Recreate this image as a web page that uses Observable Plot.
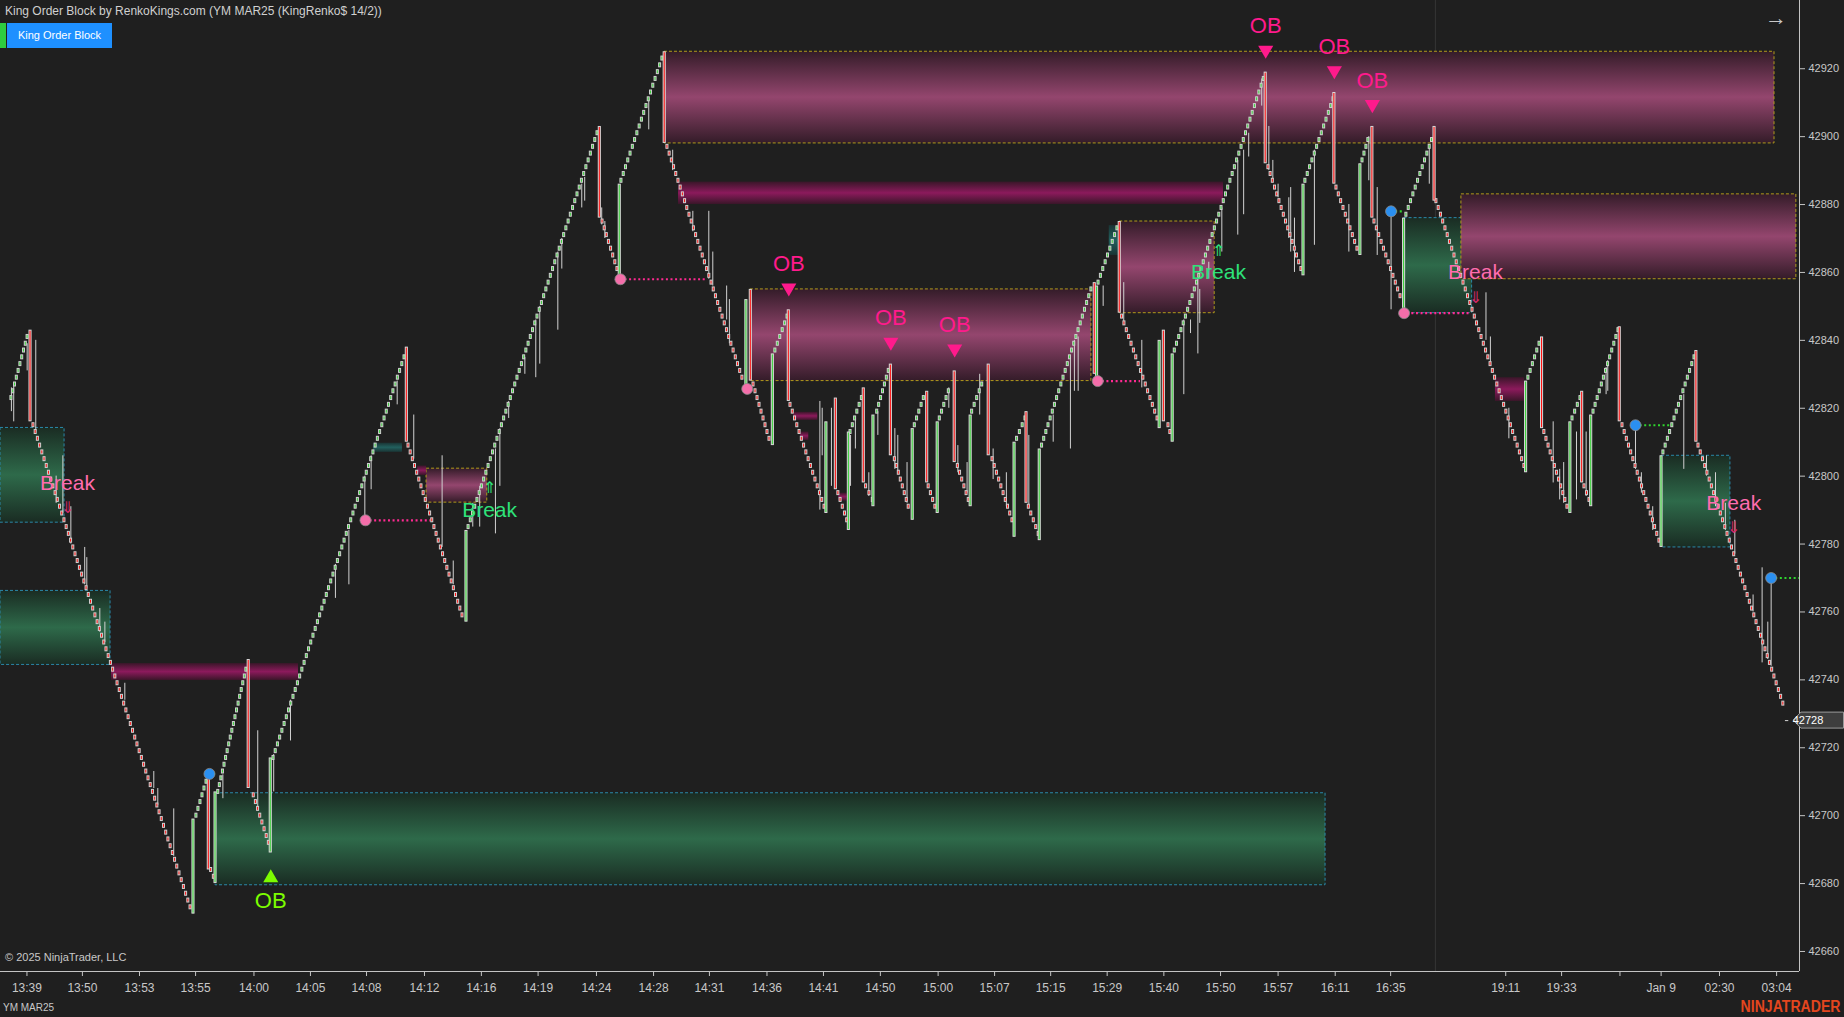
<!DOCTYPE html>
<html><head><meta charset="utf-8">
<script src="https://cdn.jsdelivr.net/npm/d3@7"></script>
<script src="https://cdn.jsdelivr.net/npm/@observablehq/plot@0.6"></script>
<style>
html,body{margin:0;padding:0;background:#1f1f1f;overflow:hidden}
#wrap{position:relative;width:1844px;height:1017px}
.ov{position:absolute;font-family:"Liberation Sans",Arial,sans-serif;color:#d0d0d0;white-space:nowrap}
</style></head>
<body><div id="wrap"></div>
<script>
// ---------- DATA (bar index, price) ----------
const BRICK = 2;
const tickBars = [12.6,39,66.2,92.9,120.7,147.6,174.3,201.9,229,256,283.8,311,337.6,365,391.9,419,446.5,473.4,500.1,527,554,581,608.4,635.6,662,716.8,743.4,771.2,790.8,818.6,845.8];
const tickLabels = ["13:39","13:50","13:53","13:55","14:00","14:05","14:08","14:12","14:16","14:19","14:24","14:28","14:31","14:36","14:41","14:50","15:00","15:07","15:15","15:29","15:40","15:50","15:57","16:11","16:35","19:11","19:33","","Jan 9","02:30","03:04"];
const yTicks = [42660,42680,42700,42720,42740,42760,42780,42800,42820,42840,42860,42880,42900,42920];
const xDomain = [0, 856.7];
const yDomain = [42654.1, 42940.1];
const sessionBreak = 683.3;
const lastPrice = 42728;
const lastBar = 850.8;

// renko legs of 2-point bricks: [startBar, firstClose, endBar, lastClose]
const legs = [
 [5.2,42824,12.9,42842],[15.7,42814,90.5,42672],[93.3,42701,98.1,42711],[100.3,42683,101.6,42681],
 [103.7,42708,117.1,42744],[120.6,42705,127.8,42691],[130.0,42718,192.4,42836],[194.3,42808,220.0,42758],
 [222.9,42786,284.3,42902],[286.7,42874,293.8,42860],[295.7,42888,315.2,42924],[317.6,42896,353.3,42828],
 [358.6,42826,366.2,42810],[369.0,42838,374.8,42848],[376.2,42820,392.4,42790],[399.0,42794,403.2,42786],
 [404.8,42814,410.2,42824],[412.2,42796,415.4,42792],[417.5,42820,423.0,42832],[425.9,42804,432.5,42790],
 [435.4,42816,439.7,42824],[442.0,42796,445.2,42790],[447.3,42818,451.6,42826],[455.9,42802,461.1,42792],
 [462.7,42820,467.5,42828],[472.4,42804,481.9,42786],[484.1,42812,488.1,42818],[489.7,42790,494.4,42782],
 [496.0,42810,519.5,42856],[522.9,42858,531.9,42874],[534.1,42846,551.0,42816],[556.2,42814,557.1,42812],
 [559.2,42838,601.6,42918],[603.8,42890,619.5,42860],[621.4,42888,634.8,42912],[636.2,42884,646.2,42866],
 [648.6,42894,651.4,42900],[654.3,42874,666.7,42852],[669.5,42878,681.7,42900],[683.8,42880,725.7,42802],
 [727.6,42830,732.9,42840],[735.2,42812,746.2,42790],[748.6,42818,752.4,42824],[754.3,42796,756.7,42792],
 [758.6,42820,770.5,42844],[772.4,42814,790.0,42780],[791.9,42808,806.7,42836],[808.6,42808,849.0,42732]
];
// reversal bars: [bar, open, close]
const reversals = [
 [14.3,42843,42816],[91.9,42671,42699],[99.2,42712,42684],[102.4,42680,42707],[118.2,42746,42708],
 [128.7,42689,42717],[193.5,42838,42810],[221.9,42757,42784],[285.4,42903,42876],[294.9,42858,42886],
 [316.3,42925,42898],[355.2,42826,42852],[357.3,42855,42828],[367.8,42809,42836],[375.4,42849,42822],
 [393.3,42789,42816],[397.8,42823,42796],[404.0,42784,42813],[411.1,42826,42798],[415.7,42791,42818],
 [424.0,42833,42806],[434.4,42787,42814],[441.3,42825,42798],[446.3,42789,42816],[454.4,42831,42804],
 [462.0,42791,42818],[470.6,42833,42806],[482.9,42782,42810],[488.6,42819,42792],[494.9,42781,42808],
 [521.1,42857,42830],[522.2,42828,42856],[533.0,42875,42848],[552.0,42814,42840],[554.0,42843,42816],
 [558.2,42810,42836],[602.5,42919,42892],[620.5,42859,42886],[635.2,42913,42886],[647.6,42865,42892],
 [653.3,42903,42876],[668.4,42848,42876],[682.9,42903,42881],[726.5,42801,42828],[734.1,42841,42814],
 [747.6,42789,42816],[753.2,42825,42798],[757.5,42791,42818],[771.1,42844,42816],[791.0,42779,42806],
 [807.6,42837,42810]
];
// wicks: [bar, low, high]
const wicks = [
 [5.2,42819,42826],[6.3,42816,42827],[12.7,42831,42839],[16.8,42813,42840],[26.5,42792,42800],[29.7,42789,42806],
 [33.5,42780,42791],[40.1,42768,42779],[41.1,42767,42776],[47.3,42754,42761],[49.7,42751,42757],[59.2,42734,42739],
 [73.0,42708,42713],[74.9,42703,42708],[82.5,42688,42702],[105.9,42705,42712],[122.5,42702,42725],[130.1,42707,42718],
 [138.1,42722,42734],[159.5,42764,42774],[165.9,42768,42784],[173.5,42787,42800],[176.5,42796,42806],[188.9,42821,42828],
 [196.8,42805,42818],[210.3,42779,42806],[215.6,42768,42775],[224.9,42785,42792],[228.2,42785,42797],[235.7,42783,42808],
 [237.8,42797,42814],[242.0,42817,42822],[249.7,42830,42835],[254.9,42829,42846],[256.8,42833,42850],[265.4,42843,42866],
 [267.3,42861,42870],[276.8,42879,42886],[278.2,42881,42888],[286.3,42874,42879],[287.8,42870,42875],[308.7,42902,42911],
 [320.1,42890,42896],[329.7,42872,42878],[337.3,42858,42878],[339.2,42856,42866],[345.8,42846,42856],[347.1,42839,42852],
 [390.2,42790,42822],[391.3,42806,42820],[395.7,42797,42820],[404.8,42797,42812],[407.1,42808,42817],[413.5,42794,42801],
 [417.8,42812,42819],[425.9,42802,42814],[427.3,42801,42812],[431.7,42792,42804],[451.6,42820,42826],[455.9,42801,42809],
 [460.3,42795,42804],[466.3,42818,42830],[472.7,42799,42808],[479.0,42791,42801],[489.7,42791,42812],[501.3,42810,42818],
 [509.5,42808,42835],[511.4,42825,42840],[513.2,42825,42841],[525.1,42850,42856],[534.9,42845,42857],[543.5,42826,42840],
 [563.5,42824,42846],[566.7,42842,42846],[570.2,42836,42858],[571.1,42845,42855],[575.4,42858,42863],[581.6,42866,42879],
 [589.2,42871,42893],[592.0,42877,42896],[594.4,42894,42901],[600.6,42909,42917],[604.0,42890,42903],[605.9,42887,42893],
 [608.4,42882,42886],[613.5,42870,42882],[614.4,42866,42885],[616.2,42860,42876],[625.7,42868,42896],[642.1,42866,42880],
 [651.6,42887,42900],[655.6,42865,42885],[662.2,42849,42878],[680.4,42886,42897],[707.4,42840,42854],[709.5,42833,42841],
 [718.3,42811,42820],[739.4,42798,42816],[742.5,42793,42802],[744.4,42792,42804],[750.5,42793,42813],[755.1,42794,42813],
 [764.6,42824,42832],[765.4,42825,42834],[778.6,42802,42815],[781.4,42795,42801],[786.8,42784,42791],[801.6,42802,42824],
 [812.4,42800,42806],[816.7,42791,42801],[821.4,42784,42792],[825.9,42777,42787],[834.6,42760,42765],[838.9,42745,42773],
 [841.6,42746,42757],[843.2,42744,42770]
];
// zones: [barStart, barEnd, low, high]
const greenZones = [[0,30.5,42786.3,42814.2],[0,52.4,42744.4,42766.2],[102.4,631,42679.5,42706.6],[668.4,700.8,42848,42876],[791,823.8,42779,42806]];
const magZones = [[316.2,844.8,42898,42925],[357.1,519.5,42828,42855],[202.9,231.8,42792.2,42802.2],[533,578.2,42848,42875],[695.7,855.2,42858,42883]];
const magBands = [[322.9,582.4,42880,42886.6],[52.9,141.9,42739.8,42744.8],[711.9,725.7,42822,42829],[377.8,389.2,42816.4,42818.8],[381,384.9,42810.5,42813],[399.2,403.2,42792.6,42795],[198.7,202.9,42800.2,42803]];
const tealBands = [[177.6,191.4,42807,42809.7],[528,532.4,42865,42873.8]];
// swing markers
const pinkLines = [[173.8,204.8,42787],[295.2,336.7,42858],[522.5,542.9,42828],[669.9,700,42848]];
const greenLines = [[99.5,102.4,42712.3],[662.2,668,42878],[778.6,795.2,42815],[843.2,856.7,42770]];
const pinkDots = [[173.8,42787],[295.2,42858],[355.6,42825.7],[522.5,42828],[668.4,42848]];
const blueDots = [[99.5,42712.3],[662.2,42878],[778.6,42815],[843.2,42770]];
const obDown = [[375.4,42849],[424.0,42833],[454.4,42831],[602.5,42919],[635.2,42913],[653.3,42903]];
const obUp = [[128.7,42689]];
const breakBear = [[31.9,42798],[702.4,42860],[825.4,42792]];
const breakBull = [[232.9,42790],[580.0,42860]];

// ---------- BUILD ----------
const bricks = legs.flatMap(([b0,p0,b1,p1]) => {
  const dir = Math.sign(p1 - p0);
  const n = Math.round(Math.abs(p1 - p0) / BRICK) + 1;
  return Array.from({length: n}, (_, k) => ({
    bar: n > 1 ? b0 + (b1 - b0) * k / (n - 1) : b0,
    close: p0 + dir * BRICK * k,
    open: p0 + dir * BRICK * (k - 1),
    up: dir > 0
  }));
});
const revBars = reversals.map(([bar, open, close]) => ({bar, open, close, up: close > open}));
const upBricks = bricks.filter(d => d.up), downBricks = bricks.filter(d => !d.up);
const upRev = revBars.filter(d => d.up), downRev = revBars.filter(d => !d.up);
const labelOf = new Map(tickBars.map((b, i) => [b, tickLabels[i]]));

const zx1 = d => d[0], zx2 = d => d[1], zy1 = d => d[2], zy2 = d => d[3];
const brickOpts = {x1: d => d.bar - 0.48, x2: d => d.bar + 0.48, y1: "open", y2: "close", stroke: "#cfcfcf", strokeWidth: 1, insetTop: 1.4, insetBottom: 1.4};
const revOpts = {x1: d => d.bar - 0.5, x2: d => d.bar + 0.5, y1: "open", y2: "close", stroke: "#d8d8d8", strokeWidth: 1, insetTop: 0.5, insetBottom: 0.5};

const svg = Plot.plot({
  width: 1844, height: 1017,
  marginLeft: 0, marginRight: 45, marginTop: 0, marginBottom: 46,
  x: {type: "linear", domain: xDomain},
  y: {domain: yDomain},
  style: {background: "#1f1f1f", color: "#c8c8c8", fontFamily: "'Liberation Sans', Arial, sans-serif", fontSize: "11px"},
  marks: [
    Plot.ruleX([sessionBreak], {stroke: "#363636", strokeWidth: 1}),
    Plot.rect(greenZones, {x1: zx1, x2: zx2, y1: zy1, y2: zy2, fill: "url(#gGreen)", stroke: "#2a88a8", strokeDasharray: "3,2", strokeWidth: 1}),
    Plot.rect(magZones, {x1: zx1, x2: zx2, y1: zy1, y2: zy2, fill: "url(#gMag)", stroke: "#b09a1c", strokeDasharray: "3,2", strokeWidth: 1}),
    Plot.rect(magBands, {x1: zx1, x2: zx2, y1: zy1, y2: zy2, fill: "url(#gBand)"}),
    Plot.rect(tealBands, {x1: zx1, x2: zx2, y1: zy1, y2: zy2, fill: "url(#gTeal)"}),
    Plot.ruleY(pinkLines, {x1: d => d[0], x2: d => d[1], y: d => d[2], stroke: "#ff2a92", strokeWidth: 2.2, strokeDasharray: "2,2.6"}),
    Plot.ruleY(greenLines, {x1: d => d[0], x2: d => d[1], y: d => d[2], stroke: "#2fd42f", strokeWidth: 2.2, strokeDasharray: "2,2.6"}),
    Plot.ruleX(wicks, {x: d => d[0], y1: d => d[1], y2: d => d[2], stroke: "#d2d2d2", strokeWidth: 1}),
    Plot.rect(upBricks, {...brickOpts, fill: "#3ad23a"}),
    Plot.rect(downBricks, {...brickOpts, fill: "#ff1010"}),
    Plot.rect(upRev, {...revOpts, fill: "#3ad23a"}),
    Plot.rect(downRev, {...revOpts, fill: "#ff1010"}),
    Plot.ruleY([lastPrice], {x1: lastBar - 0.8, x2: lastBar + 0.8, stroke: "#d4d4d4"}),
    Plot.dot(pinkDots, {x: d => d[0], y: d => d[1], r: 5.5, fill: "#f46eaa", stroke: "#8a8a8a", strokeWidth: 0.8}),
    Plot.dot(blueDots, {x: d => d[0], y: d => d[1], r: 5.5, fill: "#2a8ff0", stroke: "#8a8a8a", strokeWidth: 0.8}),
    Plot.dot(obDown, {x: d => d[0], y: d => d[1], symbol: "triangle", rotate: 180, r: 5.6, fill: "#ff1a8c", dy: -22}),
    Plot.text(obDown, {x: d => d[0], y: d => d[1], text: d => "OB", dy: -46, fill: "#ff1a8c", fontSize: 22}),
    Plot.dot(obUp, {x: d => d[0], y: d => d[1], symbol: "triangle", r: 5.6, fill: "#7cfc00", dy: 25}),
    Plot.text(obUp, {x: d => d[0], y: d => d[1], text: d => "OB", dy: 48, fill: "#7cfc00", fontSize: 22}),
    Plot.text(breakBear, {x: d => d[0], y: d => d[1], text: d => "Break", fill: "#ff6cae", fontSize: 21}),
    Plot.text(breakBear, {x: d => d[0], y: d => d[1], text: d => "⇓", dy: 25, fill: "#d42a6a", fontSize: 16}),
    Plot.text(breakBull, {x: d => d[0], y: d => d[1], text: d => "Break", fill: "#2ee27a", fontSize: 21}),
    Plot.text(breakBull, {x: d => d[0], y: d => d[1], text: d => "⇑", dy: -22, fill: "#2ee27a", fontSize: 16}),
    Plot.ruleY([yDomain[0]], {stroke: "#c4c4c4"}),
    Plot.ruleX([xDomain[1]], {stroke: "#c4c4c4"}),
    Plot.axisX(tickBars, {anchor: "bottom", tickSize: 5, tickPadding: 7, tickFormat: d => labelOf.get(d), fontSize: 12, fontFamily: "'Liberation Sans Narrow','Liberation Sans',Arial,sans-serif", label: null, stroke: "#c4c4c4", fill: "#c8c8c8"}),
    Plot.axisY(yTicks, {anchor: "right", tickSize: 5, tickPadding: 4, textAnchor: "start", fontSize: 11, label: null, stroke: "#c4c4c4", fill: "#c8c8c8", tickFormat: d => String(d)})
  ]
});

// gradients for the order-block fills
const defs = d3.select(svg).insert("defs", ":first-child");
function grad(id, edge, mid) {
  const g = defs.append("linearGradient").attr("id", id).attr("x1", 0).attr("y1", 0).attr("x2", 0).attr("y2", 1);
  g.append("stop").attr("offset", "0%").attr("stop-color", edge);
  g.append("stop").attr("offset", "50%").attr("stop-color", mid);
  g.append("stop").attr("offset", "100%").attr("stop-color", edge);
}
grad("gMag", "#341c29", "#94466e");
grad("gBand", "#3a1629", "#8c1a5c");
grad("gGreen", "#1a2c23", "#2e6a4a");
grad("gTeal", "#1a3434", "#22605e");

// last price tag on the price axis
const yPx = svg.scale("y").apply(lastPrice);
const xAx = svg.scale("x").apply(xDomain[1]);
const tag = d3.select(svg).append("g");
tag.append("path")
  .attr("d", `M${xAx - 6},${yPx} L${xAx + 2},${yPx - 8} L1843.5,${yPx - 8} L1843.5,${yPx + 8} L${xAx + 2},${yPx + 8} Z`)
  .attr("fill", "#3e3e3e").attr("stroke", "#9a9a9a").attr("stroke-width", 1);
tag.append("text").attr("x", xAx + 9).attr("y", yPx).attr("dy", "0.36em")
  .attr("fill", "#ffffff").attr("font-size", 11).attr("font-family", "'Liberation Sans', Arial, sans-serif").text(String(lastPrice));

const wrap = document.getElementById("wrap");
wrap.appendChild(svg);

function ov(html, css) {
  const d = document.createElement("div");
  d.className = "ov"; d.innerHTML = html; d.style.cssText += css; wrap.appendChild(d);
}
ov("King Order Block by RenkoKings.com (YM MAR25 (KingRenko$ 14/2))", "left:5px;top:4px;font-size:12px;line-height:14px;color:#d0d0d0;");
ov("", "left:0;top:23px;width:6px;height:25px;background:#2ecc40;");
ov("King Order Block", "left:7px;top:23px;width:105px;height:25px;background:#1e90ff;color:#ffffff;font-size:11px;line-height:25px;text-align:center;");
ov("&#8594;", "left:1765px;top:6px;font-size:22px;line-height:24px;color:#c8c8c8;");
ov("© 2025 NinjaTrader, LLC", "left:5px;top:950px;font-size:11px;line-height:14px;color:#c8c8c8;");
ov("YM MAR25", "left:3px;top:1002px;font-size:10px;line-height:12px;color:#c8c8c8;font-family:'Liberation Sans Narrow','Liberation Sans',Arial,sans-serif;");
ov("NINJATRADER", "right:4px;top:998px;font-size:16px;line-height:18px;font-weight:bold;color:#e4461e;transform:scaleX(0.88);transform-origin:right center;");
</script>
</body></html>
